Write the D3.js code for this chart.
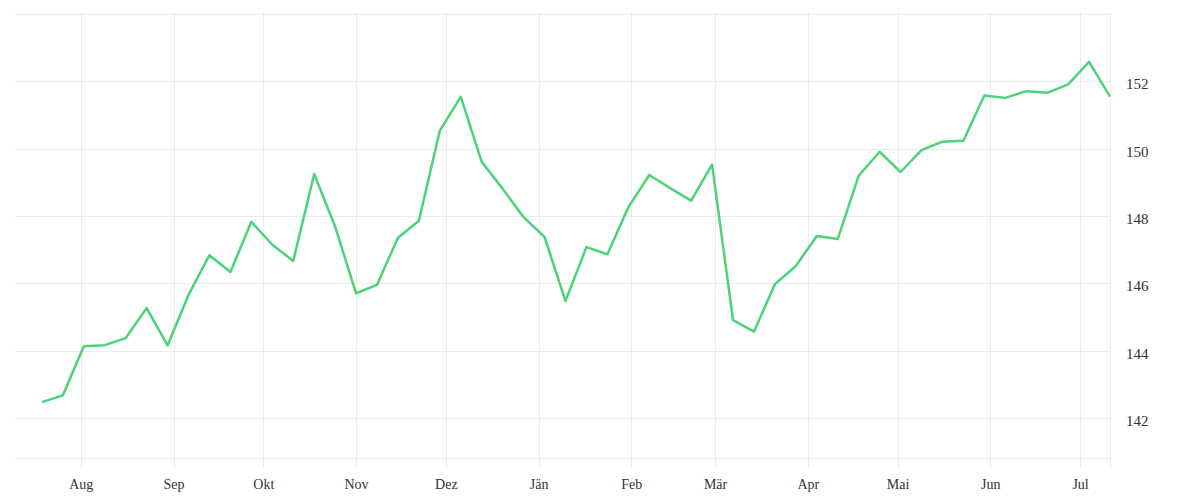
<!DOCTYPE html>
<html>
<head>
<meta charset="utf-8">
<script src="https://cdn.jsdelivr.net/npm/d3@7"></script>
<style>
  body { margin: 0; background: #fff; }
  svg { display: block; }
  text { font-family: "Liberation Serif", "Times New Roman", serif; fill: #333; }
</style>
</head>
<body>
<svg width="1200" height="500"></svg>
<script>
const dates = [
  '2022-07-19','2022-07-26','2022-08-02','2022-08-09','2022-08-16','2022-08-23','2022-08-30',
  '2022-09-06','2022-09-13','2022-09-20','2022-09-27','2022-10-04','2022-10-11','2022-10-18',
  '2022-10-25','2022-11-01','2022-11-08','2022-11-15','2022-11-22','2022-11-29','2022-12-06',
  '2022-12-13','2022-12-20','2022-12-27','2023-01-03','2023-01-10','2023-01-17','2023-01-24',
  '2023-01-31','2023-02-07','2023-02-14','2023-02-21','2023-02-28','2023-03-07','2023-03-14',
  '2023-03-21','2023-03-28','2023-04-04','2023-04-11','2023-04-18','2023-04-25','2023-05-02',
  '2023-05-09','2023-05-16','2023-05-23','2023-05-30','2023-06-06','2023-06-13','2023-06-20',
  '2023-06-27','2023-07-04','2023-07-11'
];
const values = [
  142.48, 142.68, 144.14, 144.17, 144.38, 145.27, 144.16,
  145.66, 146.84, 146.34, 147.83, 147.15, 146.67, 149.25,
  147.69, 145.71, 145.96, 147.36, 147.86, 150.54, 151.54,
  149.61, 148.81, 147.97, 147.38, 145.48, 147.08, 146.87,
  148.26, 149.22, 148.83, 148.46, 149.53, 144.91, 144.57,
  145.98, 146.52, 147.41, 147.32, 149.20, 149.91, 149.31,
  149.96, 150.21, 150.24, 151.58, 151.51, 151.71, 151.66,
  151.91, 152.58, 151.55
];
const monthTicks = ['2022-08-01','2022-09-01','2022-10-01','2022-11-01','2022-12-01','2023-01-01',
  '2023-02-01','2023-03-01','2023-04-01','2023-05-01','2023-06-01','2023-07-01'];
const monthLabels = ['Aug','Sep','Okt','Nov','Dez','Jän','Feb','Mär','Apr','Mai','Jun','Jul'];
const yTicks = [142, 144, 146, 148, 150, 152];
const xDomain = ['2022-07-10', '2023-07-11'];
const yDomain = [140.82, 154.0];

const svg = d3.select('svg');
const parse = d3.utcParse('%Y-%m-%d');
const plotLeft = 15, plotRight = 1110, plotTop = 14, plotBottom = 458;

const x = d3.scaleUtc().domain(xDomain.map(parse)).range([plotLeft, plotRight]);
const y = d3.scaleLinear().domain(yDomain).range([plotBottom, plotTop]);

const data = dates.map((d, i) => ({date: parse(d), value: values[i]}));

const grid = svg.append('g').attr('stroke', '#ececec').attr('stroke-width', 1).attr('shape-rendering', 'crispEdges');

// horizontal grid + frame top/bottom
grid.selectAll('line.h')
  .data(yTicks.concat(yDomain))
  .join('line')
  .attr('class', 'h')
  .attr('x1', plotLeft).attr('x2', plotRight)
  .attr('y1', d => Math.round(y(d)) + 0.5)
  .attr('y2', d => Math.round(y(d)) + 0.5);

// vertical month lines, slightly past the frame
grid.selectAll('line.v')
  .data(monthTicks.map(parse).concat([x.domain()[1]]))
  .join('line')
  .attr('class', 'v')
  .attr('x1', d => Math.round(x(d)) + 0.5)
  .attr('x2', d => Math.round(x(d)) + 0.5)
  .attr('y1', plotTop - 2).attr('y2', plotBottom + 10);

const xAxis = d3.axisBottom(x)
  .tickValues(monthTicks.map(parse))
  .tickFormat((d, i) => monthLabels[i])
  .tickSize(0).tickPadding(0);

svg.append('g')
  .attr('transform', `translate(0,${plotBottom})`)
  .call(xAxis)
  .call(g => g.select('.domain').remove())
  .selectAll('text')
  .attr('dy', null)
  .attr('y', 30.5)
  .style('font-size', '14px')
  .style('font-family', '"Liberation Serif", serif')
  .attr('fill', '#333');

const yAxis = d3.axisRight(y).tickValues(yTicks).tickFormat(d3.format('d')).tickSize(0).tickPadding(0);

svg.append('g')
  .attr('transform', `translate(${plotRight + 16},0)`)
  .call(yAxis)
  .call(g => g.select('.domain').remove())
  .selectAll('text')
  .attr('dy', '0.5em')
  .style('font-size', '15px')
  .style('font-family', '"Liberation Serif", serif')
  .attr('fill', '#333');

const line = d3.line().x(d => x(d.date)).y(d => y(d.value));

svg.append('path')
  .datum(data)
  .attr('fill', 'none')
  .attr('stroke', '#4cd37a')
  .attr('stroke-width', 2.5)
  .attr('stroke-linejoin', 'round')
  .attr('d', line);
</script>
</body>
</html>
